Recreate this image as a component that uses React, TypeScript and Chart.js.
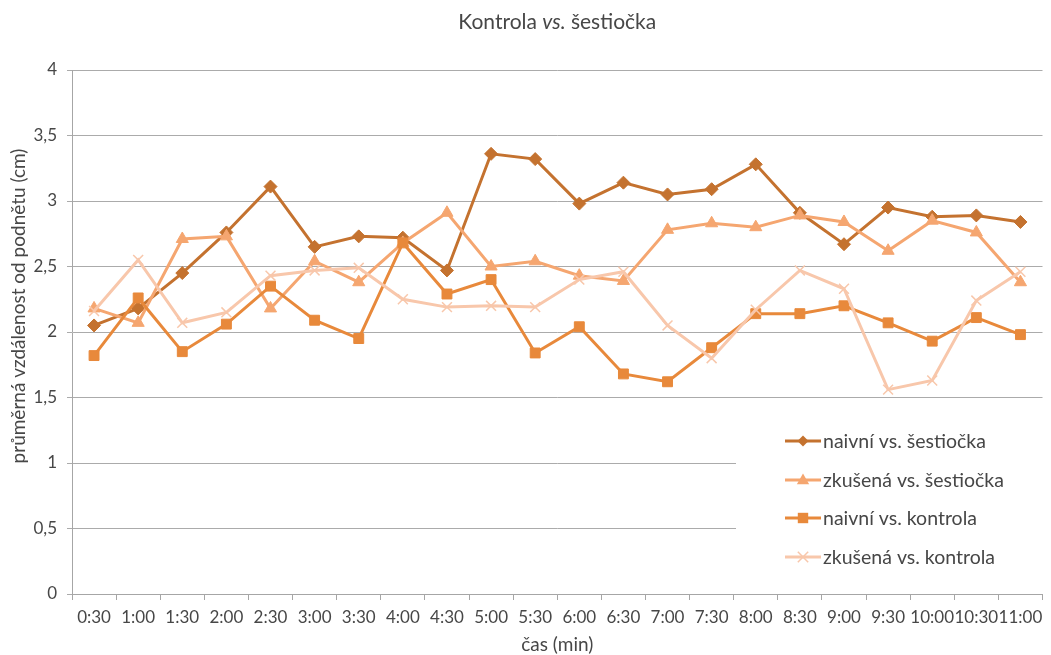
import { useEffect, useRef } from "react";
import { Chart, registerables } from "chart.js";

Chart.register(...registerables);

const categories = [
  "0:30", "1:00", "1:30", "2:00", "2:30", "3:00", "3:30", "4:00", "4:30", "5:00", "5:30",
  "6:00", "6:30", "7:00", "7:30", "8:00", "8:30", "9:00", "9:30", "10:00", "10:30", "11:00",
];

const naivniSestiocka = [
  2.05, 2.18, 2.45, 2.76, 3.11, 2.65, 2.73, 2.72, 2.47, 3.36, 3.32,
  2.98, 3.14, 3.05, 3.09, 3.28, 2.91, 2.67, 2.95, 2.88, 2.89, 2.84,
];
const zkusenaSestiocka = [
  2.18, 2.07, 2.71, 2.73, 2.18, 2.54, 2.38, 2.68, 2.91, 2.5, 2.54,
  2.43, 2.39, 2.78, 2.83, 2.8, 2.89, 2.84, 2.62, 2.85, 2.76, 2.38,
];
const naivniKontrola = [
  1.82, 2.26, 1.85, 2.06, 2.35, 2.09, 1.95, 2.68, 2.29, 2.4, 1.84,
  2.04, 1.68, 1.62, 1.88, 2.14, 2.14, 2.2, 2.07, 1.93, 2.11, 1.98,
];
const zkusenaKontrola = [
  2.16, 2.55, 2.07, 2.15, 2.43, 2.47, 2.49, 2.25, 2.19, 2.2, 2.19,
  2.4, 2.46, 2.05, 1.8, 2.17, 2.47, 2.33, 1.56, 1.63, 2.24, 2.46,
];

const yTicks = [0, 0.5, 1, 1.5, 2, 2.5, 3, 3.5, 4];

const FONT = "Lato, 'Open Sans', sans-serif";
const TEXT = "#474747";

type Marker = "diamond" | "triangle" | "square" | "cross";

const seriesStyle: { label: string; data: number[]; color: string; marker: Marker }[] = [
  { label: "naivní vs. šestiočka", data: naivniSestiocka, color: "#C4722F", marker: "diamond" },
  { label: "zkušená vs. šestiočka", data: zkusenaSestiocka, color: "#F5A670", marker: "triangle" },
  { label: "naivní vs. kontrola", data: naivniKontrola, color: "#E8893B", marker: "square" },
  { label: "zkušená vs. kontrola", data: zkusenaKontrola, color: "#F8C7AB", marker: "cross" },
];

const pointStyleFor: Record<Marker, string> = {
  diamond: "rectRot",
  triangle: "triangle",
  square: "rect",
  cross: "crossRot",
};
const radiusFor: Record<Marker, number> = { diamond: 6.5, triangle: 7, square: 7, cross: 7 };

function drawMarker(ctx: CanvasRenderingContext2D, m: Marker, x: number, y: number, r: number, color: string) {
  ctx.save();
  ctx.fillStyle = color;
  ctx.strokeStyle = color;
  ctx.beginPath();
  if (m === "diamond") {
    ctx.moveTo(x, y - r);
    ctx.lineTo(x + r, y);
    ctx.lineTo(x, y + r);
    ctx.lineTo(x - r, y);
    ctx.closePath();
    ctx.fill();
  } else if (m === "triangle") {
    ctx.moveTo(x, y - r);
    ctx.lineTo(x + r * 0.95, y + r * 0.65);
    ctx.lineTo(x - r * 0.95, y + r * 0.65);
    ctx.closePath();
    ctx.fill();
  } else if (m === "square") {
    ctx.rect(x - r * 0.8, y - r * 0.8, r * 1.6, r * 1.6);
    ctx.fill();
  } else {
    const d = r * 0.8;
    ctx.lineWidth = 1.5;
    ctx.moveTo(x - d, y - d);
    ctx.lineTo(x + d, y + d);
    ctx.moveTo(x + d, y - d);
    ctx.lineTo(x - d, y + d);
    ctx.stroke();
  }
  ctx.restore();
}

// Titles and the boxed legend, drawn straight onto the canvas
const decorations = {
  id: "decorations",
  afterDraw(chart: Chart) {
    const ctx = chart.ctx;
    const area = chart.chartArea;
    ctx.save();

    // chart title with an italic "vs."
    const parts: [string, string][] = [
      ["Kontrola ", `normal 21px ${FONT}`],
      ["vs.", `italic 21px ${FONT}`],
      [" šestiočka", `normal 21px ${FONT}`],
    ];
    let total = 0;
    for (const [t, f] of parts) {
      ctx.font = f;
      total += ctx.measureText(t).width;
    }
    let x = (area.left + area.right) / 2 - total / 2;
    ctx.fillStyle = TEXT;
    ctx.textBaseline = "middle";
    ctx.textAlign = "left";
    for (const [t, f] of parts) {
      ctx.font = f;
      ctx.fillText(t, x, 22);
      x += ctx.measureText(t).width;
    }

    // axis titles
    ctx.font = `19px ${FONT}`;
    ctx.textAlign = "center";
    ctx.fillText("čas (min)", (area.left + area.right) / 2, 645);
    ctx.save();
    ctx.translate(19, 306);
    ctx.rotate(-Math.PI / 2);
    ctx.fillText("průměrná vzdálenost od podnětu (cm)", 0, 0);
    ctx.restore();

    // legend on a white box
    ctx.fillStyle = "#ffffff";
    ctx.fillRect(736, 418, 308, 166);
    const rows = [441, 480, 518, 557];
    seriesStyle.forEach((s, i) => {
      const y = rows[i];
      ctx.strokeStyle = s.color;
      ctx.lineWidth = 3;
      ctx.beginPath();
      ctx.moveTo(785, y);
      ctx.lineTo(821, y);
      ctx.stroke();
      drawMarker(ctx, s.marker, 803, y, s.marker === "diamond" ? 5.5 : 6.5, s.color);
      ctx.fillStyle = TEXT;
      ctx.font = `19.5px ${FONT}`;
      ctx.textAlign = "left";
      ctx.textBaseline = "middle";
      ctx.fillText(s.label, 823, y + 1);
    });
    ctx.restore();
  },
};

export default function App() {
  const canvasRef = useRef<HTMLCanvasElement | null>(null);

  useEffect(() => {
    const canvas = canvasRef.current;
    if (!canvas) return;

    const datasets = seriesStyle.map((s, i) => ({
      label: s.label,
      data: s.data,
      borderColor: s.color,
      backgroundColor: s.color,
      borderWidth: 3,
      pointStyle: pointStyleFor[s.marker] as any,
      pointRadius: radiusFor[s.marker],
      pointBorderWidth: s.marker === "cross" ? 1.5 : 1,
      pointBorderColor: s.color,
      pointBackgroundColor: s.color,
      tension: 0,
      order: seriesStyle.length - i,
    }));

    const chart = new Chart(canvas, {
      type: "line",
      data: { labels: categories, datasets },
      options: {
        responsive: false,
        animation: false,
        layout: { padding: { top: 70, right: 7, left: 0, bottom: 0 } },
        plugins: {
          legend: { display: false },
          title: { display: false },
          tooltip: { enabled: false },
        },
        scales: {
          x: {
            offset: true,
            grid: {
              offset: true,
              drawOnChartArea: false,
              drawTicks: true,
              tickLength: 6,
              color: "#A6A6A6",
            },
            border: { color: "#A6A6A6", width: 1 },
            ticks: {
              autoSkip: false,
              maxRotation: 0,
              minRotation: 0,
              padding: 7,
              color: TEXT,
              font: { family: FONT, size: 17 },
            },
            afterFit(scale: any) {
              scale.height = 61;
            },
          },
          y: {
            min: 0,
            max: 4,
            afterBuildTicks(scale: any) {
              scale.ticks = yTicks.map((v) => ({ value: v }));
            },
            grid: {
              color: "#ABABAB",
              drawTicks: true,
              tickLength: 5,
            },
            border: { color: "#A6A6A6", width: 1 },
            ticks: {
              padding: 10,
              color: TEXT,
              font: { family: FONT, size: 17 },
              callback: (v: any) => String(v).replace(".", ","),
            },
            afterFit(scale: any) {
              scale.width = 72;
            },
          },
        },
      },
      plugins: [decorations],
    });

    return () => chart.destroy();
  }, []);

  return (
    <div style={{ position: "fixed", left: 0, top: 0, width: 1051, height: 655, background: "#fff" }}>
      <canvas ref={canvasRef} width={1051} height={655} style={{ display: "block" }} />
    </div>
  );
}
